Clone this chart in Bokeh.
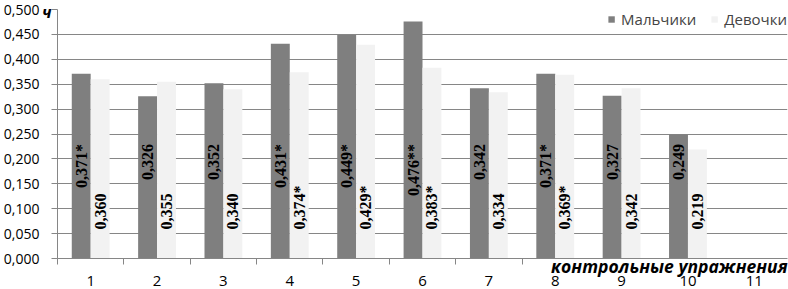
import math
from bokeh.plotting import figure
from bokeh.models import (ColumnDataSource, Range1d, FixedTicker, LinearAxis,
                          CustomJSTickFormatter)
from bokeh.core.properties import value
from bokeh.embed import file_html
from bokeh.resources import INLINE

# ---- data ----
categories = ["1", "2", "3", "4", "5", "6", "7", "8", "9", "10", "11"]
boys = [0.371, 0.326, 0.352, 0.431, 0.449, 0.476, 0.342, 0.371, 0.327, 0.249]
girls = [0.360, 0.355, 0.340, 0.374, 0.429, 0.383, 0.334, 0.369, 0.342, 0.219]
boys_marks = ["*", "", "", "*", "*", "**", "", "*", "", ""]
girls_marks = ["", "", "", "*", "*", "*", "", "*", "", ""]
y_ticks = [0.0, 0.05, 0.1, 0.15, 0.2, 0.25, 0.3, 0.35, 0.4, 0.45, 0.5]
series_names = ["Мальчики", "Девочки"]
x_title = "контрольные упражнения"
y_title = "ч"

# ---- style ----
BOY_COLOR = "#7f7f7f"
GIRL_COLOR = "#f2f2f2"
AXIS_COLOR = "#868686"
BAR_W = 0.285
TITLE_CENTER = 9.72    # x position (axis units) where the x title is centred
TITLE_LEFT = 8.0       # boundary ticks to the right of this are hidden by the title
BOY_LABEL_TOP = 0.23   # where the boys' value labels end (axis units)
GIRL_LABEL_BASE = 0.058  # where the girls' value labels start (axis units)


def fmt(v, mark):
    return f"{v:.3f}".replace(".", ",") + mark


n = len(categories)
pos = [i + 1 for i in range(len(boys))]
src = ColumnDataSource(dict(
    xb=[q - BAR_W / 2 for q in pos],
    xg=[q + BAR_W / 2 for q in pos],
    boys=boys,
    girls=girls,
    lb=[fmt(v, m) for v, m in zip(boys, boys_marks)],
    lg=[fmt(v, m) for v, m in zip(girls, girls_marks)],
))

p = figure(width=788, height=288, output_backend="svg", toolbar_location=None,
           x_range=Range1d(0.5, n + 0.5), y_range=Range1d(0, max(y_ticks)),
           min_border_left=10, min_border_right=1, min_border_top=9,
           min_border_bottom=0)
p.outline_line_color = None

p.vbar(x="xb", top="boys", width=BAR_W, source=src, fill_color=BOY_COLOR,
       line_color=None, legend_label=series_names[0])
p.vbar(x="xg", top="girls", width=BAR_W, source=src, fill_color=GIRL_COLOR,
       line_color=None, legend_label=series_names[1])

p.text(x="xb", y=BOY_LABEL_TOP, text="lb", source=src, angle=math.pi / 2,
       text_align="right", text_baseline="middle",
       text_font=value("Liberation Serif"), text_font_style="bold",
       text_font_size="16px", text_color="black")
p.text(x="xg", y=GIRL_LABEL_BASE, text="lg", source=src, angle=math.pi / 2,
       text_align="left", text_baseline="middle",
       text_font=value("Liberation Serif"), text_font_style="bold",
       text_font_size="16px", text_color="black")

# ---- x axes: line + boundary ticks + title (inner), category numbers (outer)
boundaries = [i + 0.5 for i in range(n + 1)]
xa = p.xaxis[0]
xa.ticker = FixedTicker(ticks=[TITLE_CENTER],
                        minor_ticks=[b for b in boundaries if b < TITLE_LEFT])
xa.formatter = CustomJSTickFormatter(args=dict(t=x_title), code="return t;")
xa.axis_line_color = AXIS_COLOR
xa.major_tick_out = 0
xa.major_tick_in = 0
xa.minor_tick_out = 6
xa.minor_tick_in = 0
xa.minor_tick_line_color = AXIS_COLOR
xa.major_label_standoff = -11
xa.major_label_text_font = "Open Sans"
xa.major_label_text_font_style = "bold italic"
xa.major_label_text_font_size = "17.5px"
xa.major_label_text_color = "black"

xn = LinearAxis(ticker=FixedTicker(ticks=[i + 1 for i in range(n)], minor_ticks=[]),
                formatter=CustomJSTickFormatter(args=dict(cats=categories),
                                                code="return cats[Math.round(tick) - 1];"))
xn.axis_line_color = None
xn.major_tick_line_color = None
xn.minor_tick_line_color = None
xn.major_tick_out = 0
xn.major_tick_in = 0
xn.minor_tick_out = 0
xn.minor_tick_in = 0
xn.major_label_standoff = -5
xn.major_label_text_font = "Open Sans"
xn.major_label_text_font_size = "15px"
xn.major_label_text_color = "black"
p.add_layout(xn, "below")

# ---- y axes: line + ticks + unit (inner), numbers (outer)
ya = p.yaxis[0]
ya.ticker = FixedTicker(ticks=y_ticks, minor_ticks=[])
ya.formatter = CustomJSTickFormatter(args=dict(t=y_title, top=max(y_ticks)),
                                     code="return Math.abs(tick - top) < 1e-9 ? t : '';")
ya.axis_line_color = AXIS_COLOR
ya.major_tick_out = 6
ya.major_tick_in = 0
ya.major_tick_line_color = AXIS_COLOR
ya.major_label_standoff = 0
ya.major_label_text_font = "Open Sans"
ya.major_label_text_font_style = "bold italic"
ya.major_label_text_font_size = "16px"
ya.major_label_text_color = "black"

yn = LinearAxis(ticker=FixedTicker(ticks=y_ticks, minor_ticks=[]),
                formatter=CustomJSTickFormatter(code="return tick.toFixed(3).replace('.', ',');"))
yn.axis_line_color = None
yn.major_tick_line_color = None
yn.major_tick_out = 0
yn.major_tick_in = 0
yn.major_label_standoff = -1
yn.major_label_text_font = "Open Sans"
yn.major_label_text_font_size = "14px"
yn.major_label_text_color = "black"
p.add_layout(yn, "left")

p.xgrid.visible = False
p.ygrid.ticker = FixedTicker(ticks=y_ticks, minor_ticks=[])
p.ygrid.grid_line_color = AXIS_COLOR

# ---- legend
lg = p.legend[0]
lg.location = "top_right"
lg.orientation = "horizontal"
lg.border_line_color = None
lg.background_fill_alpha = 0
lg.glyph_width = 8
lg.glyph_height = 8
lg.label_standoff = 6
lg.spacing = 14
lg.padding = 1
lg.margin = 0
lg.label_text_font = "Open Sans"
lg.label_text_font_size = "15px"

open("out.html", "w").write(file_html(p, INLINE))
